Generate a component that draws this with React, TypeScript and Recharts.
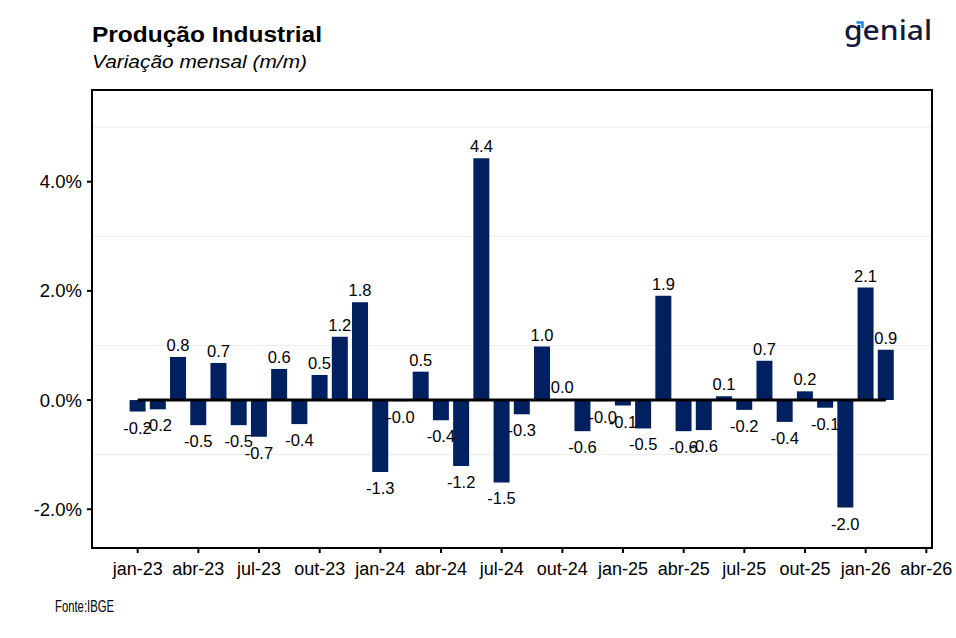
import React from 'react';
import { BarChart, Bar, XAxis, YAxis, ReferenceLine, LabelList, CartesianGrid } from 'recharts';

const months = [
  'jan-23', 'fev-23', 'mar-23', 'abr-23', 'mai-23', 'jun-23', 'jul-23', 'ago-23', 'set-23', 'out-23', 'nov-23', 'dez-23',
  'jan-24', 'fev-24', 'mar-24', 'abr-24', 'mai-24', 'jun-24', 'jul-24', 'ago-24', 'set-24', 'out-24', 'nov-24', 'dez-24',
  'jan-25', 'fev-25', 'mar-25', 'abr-25', 'mai-25', 'jun-25', 'jul-25', 'ago-25', 'set-25', 'out-25', 'nov-25', 'dez-25',
  'jan-26', 'fev-26',
];

const values = [
  -0.21, -0.17, 0.79, -0.46, 0.68, -0.46, -0.67, 0.57, -0.44, 0.46, 1.16, 1.79,
  -1.32, -0.02, 0.52, -0.37, -1.21, 4.43, -1.51, -0.26, 0.98, 0.02, -0.57, -0.02,
  -0.1, -0.52, 1.91, -0.57, -0.55, 0.07, -0.18, 0.72, -0.4, 0.16, -0.14, -1.97,
  2.06, 0.92,
];

const xTickIndex = [0, 3, 6, 9, 12, 15, 18, 21, 24, 27, 30, 33, 36, 39];
const xTickLabels = [
  'jan-23', 'abr-23', 'jul-23', 'out-23', 'jan-24', 'abr-24', 'jul-24', 'out-24',
  'jan-25', 'abr-25', 'jul-25', 'out-25', 'jan-26', 'abr-26',
];
const yTicks = [-2, 0, 2, 4];
const minorGrid = [-1, 1, 3, 5];

const data = months.map((m, i) => ({ idx: i, month: m, value: values[i] }));

const FONT = '"Liberation Sans", Arial, sans-serif';
const BAR_COLOR = '#002060';

const W = 956;
const H = 638;
const PLOT_LEFT = 92;
const PLOT_TOP = 90;
const PLOT_RIGHT = 932;
const PLOT_BOTTOM = 548;

const ValueLabel = (props: any) => {
  const { x, y, width, height, value } = props;
  if (value === undefined || value === null) return null;
  const top = Math.min(y, y + height);
  const bottom = Math.max(y, y + height);
  const cx = x + width / 2;
  const v = Number(value);
  const ty = v >= 0 ? top - 6 : bottom + 22;
  return (
    <text x={cx} y={ty} textAnchor="middle" fontSize={16.5} fill="#000" fontFamily={FONT}>
      {v.toFixed(1)}
    </text>
  );
};

export default function App() {
  return (
    <div style={{ position: 'absolute', left: 0, top: 0, width: W, height: H, background: '#fff' }}>
      <BarChart
        width={W}
        height={H}
        data={data}
        margin={{ top: PLOT_TOP, right: W - PLOT_RIGHT, bottom: 50, left: 0 }}
        style={{ fontFamily: FONT }}
      >
        <CartesianGrid vertical={false} horizontalValues={minorGrid} stroke="#ececec" strokeWidth={1} />
        <XAxis
          type="number"
          dataKey="idx"
          domain={[-2.26, 39.28]}
          allowDataOverflow
          ticks={xTickIndex}
          interval={0}
          tickFormatter={(v: number) => xTickLabels[xTickIndex.indexOf(v)] ?? ''}
          tick={{ fontSize: 18, fill: '#000', fontFamily: FONT }}
          tickLine={{ stroke: '#000', strokeWidth: 2 }}
          axisLine={false}
          tickSize={5}
          tickMargin={9}
          height={40}
        />
        <YAxis
          type="number"
          domain={[-2.71, 5.68]}
          allowDataOverflow
          ticks={yTicks}
          interval={0}
          tickFormatter={(v: number) => `${v.toFixed(1)}%`}
          tick={{ fontSize: 18.5, fill: '#000', fontFamily: FONT }}
          tickLine={{ stroke: '#000', strokeWidth: 2 }}
          axisLine={false}
          tickSize={5}
          tickMargin={5}
          width={PLOT_LEFT}
        />
        <Bar dataKey="value" fill={BAR_COLOR} barSize={16} isAnimationActive={false}>
          <LabelList dataKey="value" content={<ValueLabel />} />
        </Bar>
        <ReferenceLine
          segment={[{ x: data[0].idx, y: 0 }, { x: data[data.length - 1].idx, y: 0 }]}
          stroke="#000"
          strokeWidth={3}
        />
      </BarChart>
      <svg
        width={W}
        height={H}
        style={{ position: 'absolute', left: 0, top: 0, pointerEvents: 'none' }}
      >
        <rect
          x={PLOT_LEFT}
          y={PLOT_TOP}
          width={PLOT_RIGHT - PLOT_LEFT}
          height={PLOT_BOTTOM - PLOT_TOP}
          fill="none"
          stroke="#000"
          strokeWidth={2}
        />
        <text x={92} y={42} fontSize={22} fontWeight="bold" fontFamily={FONT} fill="#000" textLength={230} lengthAdjust="spacingAndGlyphs">
          Produção Industrial
        </text>
        <text x={92} y={68} fontSize={19} fontStyle="italic" fontFamily={FONT} fill="#000" textLength={215} lengthAdjust="spacingAndGlyphs">
          Variação mensal (m/m)
        </text>
        <text x={55} y={612} fontSize={16} fontFamily={FONT} fill="#000" textLength={59} lengthAdjust="spacingAndGlyphs">
          Fonte:IBGE
        </text>
        <text x={844} y={40} fontSize={27} fontWeight={500} fontFamily='"Noto Sans", Inter, sans-serif' fill="#16183a" textLength={88} lengthAdjust="spacingAndGlyphs">
          genial
        </text>
        <path d="M856.5 22.5 L862.5 22.5 L862.5 28" fill="none" stroke="#1e88e5" strokeWidth={2.5} />
      </svg>
    </div>
  );
}
